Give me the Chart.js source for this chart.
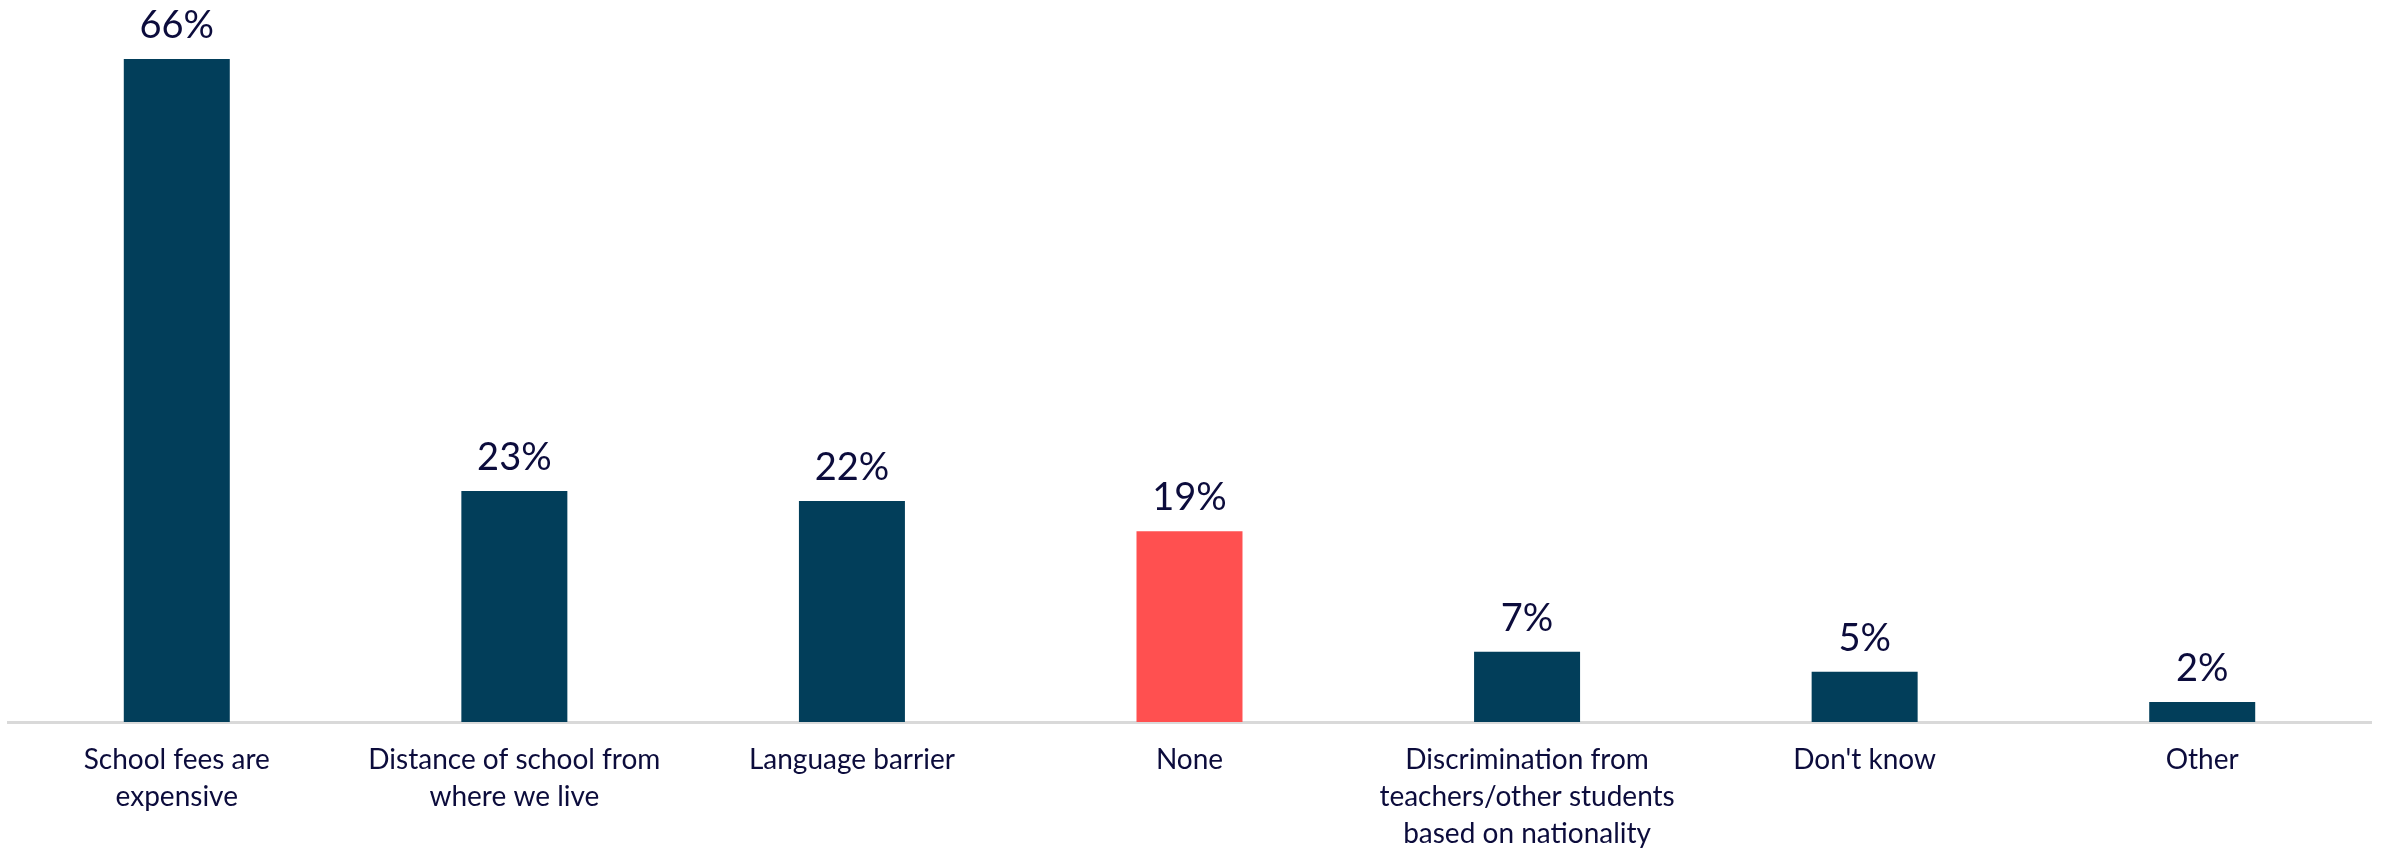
<!DOCTYPE html>
<html>
<head>
<meta charset="utf-8">
<script src="https://cdn.jsdelivr.net/npm/chart.js@4"></script>
<style>
  html, body { margin: 0; padding: 0; background: #fff; }
  #wrap { width: 2384px; height: 854px; }
</style>
</head>
<body>
<div id="wrap"><canvas id="barriers" width="2384" height="854"></canvas></div>
<script>
// barriers to schooling, % of respondents
const categories = [
    ['School fees are', 'expensive'],
    ['Distance of school from', 'where we live'],
    'Language barrier',
    'None',
    ['Discrimination from', 'teachers/other students', 'based on nationality'],
    "Don't know",
    'Other'
];
const values = [66, 23, 22, 19, 7, 5, 2];
const highlighted = ['None'];

const NAVY = '#023e5a';
const RED = '#ff5050';
const TEXT = '#0c0c3c';

const barColors = categories.map(c => highlighted.includes(c) ? RED : NAVY);

// draw "66%" etc above each bar
const valueLabels = {
    id: 'valueLabels',
    afterDatasetsDraw(chart) {
        const ctx = chart.ctx;
        const meta = chart.getDatasetMeta(0);
        ctx.save();
        ctx.font = '38px Lato';
        ctx.fillStyle = TEXT;
        ctx.textAlign = 'center';
        ctx.textBaseline = 'alphabetic';
        meta.data.forEach((bar, i) => {
            ctx.fillText(values[i] + '%', bar.x, bar.y - 21);
        });
        ctx.restore();
    }
};

new Chart(document.getElementById('barriers'), {
    type: 'bar',
    data: {
        labels: categories,
        datasets: [{
            data: values,
            backgroundColor: barColors,
            categoryPercentage: 1,
            barPercentage: 0.314
        }]
    },
    options: {
        responsive: false,
        animation: false,
        layout: { padding: { top: 59, left: 8, right: 13, bottom: 0 } },
        plugins: { legend: { display: false }, tooltip: { enabled: false } },
        scales: {
            y: {
                display: false,
                min: 0,
                max: 66
            },
            x: {
                grid: { display: false, drawTicks: false },
                border: { display: true, color: '#d9d9d9', width: 3 },
                ticks: {
                    color: TEXT,
                    font: { family: 'Lato', size: 28, lineHeight: 1.31 },
                    padding: 20,
                    maxRotation: 0,
                    autoSkip: false
                },
                afterFit(scale) { scale.height = 132; }
            }
        }
    },
    plugins: [valueLabels]
});
</script>
</body>
</html>
